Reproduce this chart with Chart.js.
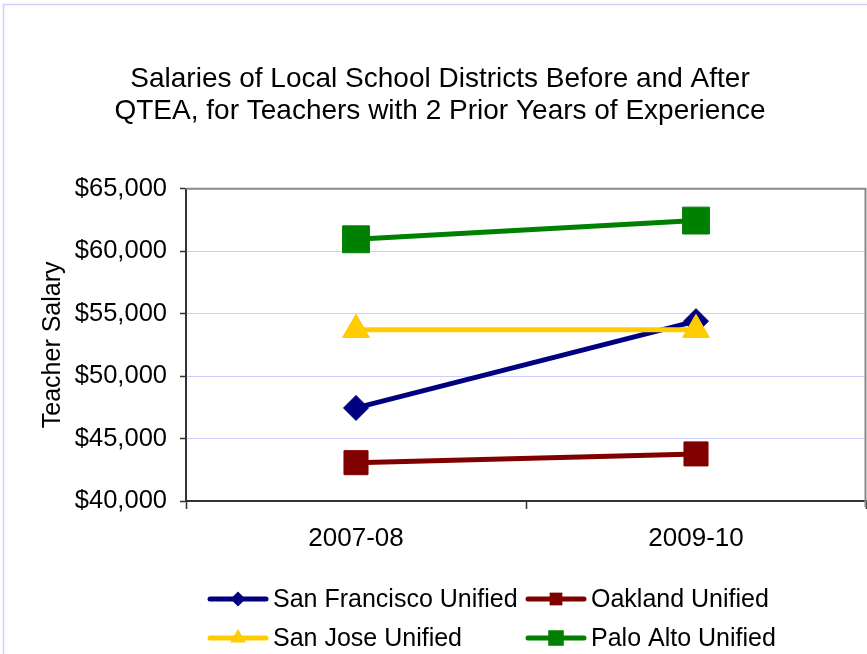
<!DOCTYPE html>
<html lang="en">
<head>
  <meta charset="UTF-8">
  <title>Teacher Salaries Before and After QTEA</title>
  <script src="https://cdn.jsdelivr.net/npm/chart.js"></script>
  <style>
    html, body {
      margin: 0;
      padding: 0;
      overflow: hidden;
      background: #ffffff;
    }
    canvas {
      display: block;
    }
  </style>
</head>
<body>

  <canvas id="graficoSalarios" width="867" height="654"></canvas>

  <script>
    // valores
    const anos = ['2007-08', '2009-10'];
    const sanFrancisco = [47450, 54400];
    const oakland = [43070, 43770];
    const sanJose = [53710, 53710];
    const paloAlto = [60950, 62450];
    const rotulosY = [40000, 45000, 50000, 55000, 60000, 65000];

    const fonte = "'Liberation Sans', Arial, sans-serif";

    // moldura lilas e borda cinza da area do grafico
    const moldura = {
      id: 'moldura',
      beforeDraw(chart) {
        const ctx = chart.ctx;
        ctx.save();
        ctx.fillStyle = '#ffffff';
        ctx.fillRect(0, 0, chart.width, chart.height);
        ctx.strokeStyle = '#d0d0f8';
        ctx.lineWidth = 1.5;
        ctx.strokeRect(3.5, 4.5, 900, 700);
        ctx.restore();
      },
      beforeDatasetsDraw(chart) {
        const { ctx, chartArea } = chart;
        ctx.save();
        ctx.strokeStyle = '#888888';
        ctx.lineWidth = 2;
        ctx.beginPath();
        ctx.moveTo(chartArea.left, chartArea.top);
        ctx.lineTo(chartArea.right - 0.5, chartArea.top);
        ctx.lineTo(chartArea.right - 0.5, chartArea.bottom + 6);
        ctx.stroke();
        ctx.restore();
      }
    };

    function desenhaMarcador(ctx, estilo, x, y, r) {
      ctx.beginPath();
      if (estilo === 'rectRot') {
        ctx.moveTo(x - r, y);
        ctx.lineTo(x, y - r);
        ctx.lineTo(x + r, y);
        ctx.lineTo(x, y + r);
      } else if (estilo === 'triangle') {
        ctx.moveTo(x, y - r);
        ctx.lineTo(x + r * 0.866, y + r * 0.5);
        ctx.lineTo(x - r * 0.866, y + r * 0.5);
      } else {
        const s = r * Math.SQRT1_2;
        ctx.rect(x - s, y - s, 2 * s, 2 * s);
      }
      ctx.closePath();
      ctx.fill();
    }

    // legenda em duas colunas, como no Excel
    const legenda = {
      id: 'legenda',
      afterDraw(chart) {
        const ctx = chart.ctx;
        const colunas = [210, 528];
        const linhas = [599, 638];
        ctx.save();
        chart.data.datasets.forEach((ds, i) => {
          const x0 = colunas[i % 2];
          const y = linhas[Math.floor(i / 2)];
          ctx.strokeStyle = ds.borderColor;
          ctx.fillStyle = ds.borderColor;
          ctx.lineWidth = 5;
          ctx.lineCap = 'round';
          ctx.beginPath();
          ctx.moveTo(x0, y);
          ctx.lineTo(x0 + 56, y);
          ctx.stroke();
          desenhaMarcador(ctx, ds.pointStyle, x0 + 28, y, ds.legendaRaio);
          ctx.fillStyle = '#000000';
          ctx.font = '25px ' + fonte;
          ctx.textBaseline = 'middle';
          ctx.textAlign = 'left';
          ctx.fillText(ds.label, x0 + 63, y + 1);
        });
        ctx.restore();
      }
    };

    const ctx = document.getElementById('graficoSalarios').getContext('2d');
    new Chart(ctx, {
      type: 'line',
      data: {
        labels: anos,
        datasets: [
          {
            label: 'San Francisco Unified',
            data: sanFrancisco,
            borderColor: '#000080',
            backgroundColor: '#000080',
            pointStyle: 'rectRot',
            pointRadius: 12.5,
            legendaRaio: 7.5,
            order: 4
          },
          {
            label: 'Oakland Unified',
            data: oakland,
            borderColor: '#800000',
            backgroundColor: '#800000',
            pointStyle: 'rect',
            pointRadius: 17,
            legendaRaio: 9,
            order: 3
          },
          {
            label: 'San Jose Unified',
            data: sanJose,
            borderColor: '#ffcc00',
            backgroundColor: '#ffcc00',
            pointStyle: 'triangle',
            pointRadius: 15.5,
            legendaRaio: 9,
            order: 2
          },
          {
            label: 'Palo Alto Unified',
            data: paloAlto,
            borderColor: '#008000',
            backgroundColor: '#008000',
            pointStyle: 'rect',
            pointRadius: 19,
            legendaRaio: 11,
            order: 1
          }
        ]
      },
      options: {
        responsive: false,
        animation: false,
        devicePixelRatio: 1,
        elements: {
          line: { borderWidth: 5, tension: 0 },
          point: { borderWidth: 1, hoverRadius: 12 }
        },
        layout: {
          autoPadding: false,
          padding: { left: 14, right: 1, top: 0, bottom: 93 }
        },
        scales: {
          x: {
            offset: true,
            afterFit(scale) { scale.height = 60; },
            grid: {
              offset: true,
              drawOnChartArea: false,
              tickLength: 8,
              tickColor: '#333333',
              tickWidth: 1.5
            },
            border: { color: '#333333', width: 2 },
            ticks: {
              color: '#000000',
              padding: 14,
              font: { family: fonte, size: 26 }
            }
          },
          y: {
            min: rotulosY[0],
            max: rotulosY[rotulosY.length - 1],
            afterFit(scale) { scale.width = 172; },
            afterBuildTicks(scale) {
              scale.ticks = rotulosY.map(v => ({ value: v }));
            },
            grid: {
              color: '#ccccff',
              lineWidth: 1,
              tickLength: 6,
              tickColor: '#333333',
              tickWidth: 1.5
            },
            border: { color: '#333333', width: 2 },
            ticks: {
              color: '#000000',
              padding: 13,
              font: { family: fonte, size: 25.5 },
              callback: v => '$' + Number(v).toLocaleString('en-US')
            },
            title: {
              display: true,
              text: 'Teacher Salary',
              color: '#000000',
              padding: { top: 24, bottom: 0 },
              font: { family: fonte, size: 25 }
            }
          }
        },
        plugins: {
          legend: { display: false },
          tooltip: { enabled: false },
          title: {
            display: true,
            text: [
              'Salaries of Local School Districts Before and After',
              'QTEA, for Teachers with 2 Prior Years of Experience'
            ],
            color: '#000000',
            padding: { top: 64, bottom: 62 },
            font: { family: fonte, size: 28, weight: 'normal', lineHeight: 1.12 }
          }
        }
      },
      plugins: [moldura, legenda]
    });
  </script>

</body>
</html>
